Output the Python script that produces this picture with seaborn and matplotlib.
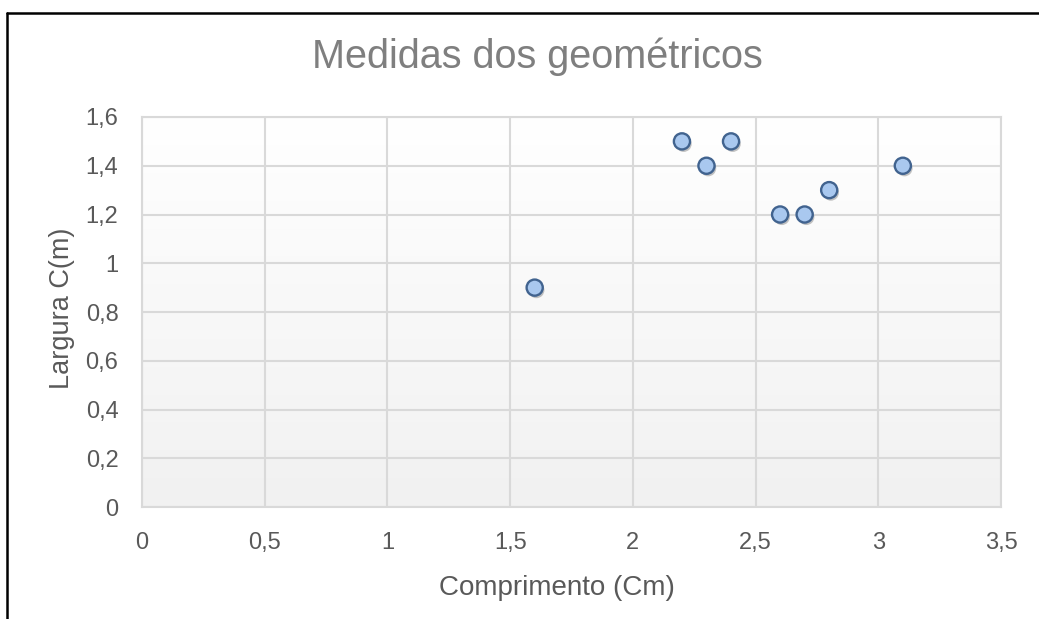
import numpy as np
import pandas as pd
import matplotlib
matplotlib.use("Agg")
import matplotlib.pyplot as plt
import matplotlib.patheffects as pe
from matplotlib.lines import Line2D
import seaborn as sns

# Measurements (length x width)
comprimento = [1.6, 2.2, 2.3, 2.4, 2.6, 2.7, 2.8, 3.1]
largura = [0.9, 1.5, 1.4, 1.5, 1.2, 1.2, 1.3, 1.4]

x_ticks = [0, 0.5, 1, 1.5, 2, 2.5, 3, 3.5]
y_ticks = [0, 0.2, 0.4, 0.6, 0.8, 1.0, 1.2, 1.4, 1.6]
x_tick_labels = ["0", "0,5", "1", "1,5", "2", "2,5", "3", "3,5"]
y_tick_labels = ["0", "0,2", "0,4", "0,6", "0,8", "1", "1,2", "1,4", "1,6"]

titulo = "Medidas dos geométricos"
rotulo_x = "Comprimento (Cm)"
rotulo_y = "Largura C(m)"

df = pd.DataFrame({"comprimento": comprimento, "largura": largura})

sns.set_style("white")
plt.rcParams["font.family"] = ["Liberation Sans", "DejaVu Sans"]

W, H = 1039, 619
fig = plt.figure(figsize=(W / 100, H / 100), dpi=100)
fig.patch.set_facecolor("white")

ax = fig.add_axes([142 / W, 1 - 507 / H, (1001 - 142) / W, (507 - 117) / H])

# soft vertical gradient in the plot area: white on top, light grey at the bottom
grad = np.linspace(1.0, 0.945, 256).reshape(-1, 1)
ax.imshow(np.dstack([grad, grad, grad]), extent=[0, 3.5, 0, 1.6], aspect="auto",
          origin="upper", zorder=0, interpolation="bilinear")

grid_col = "#d9d9d9"
ax.set_xlim(0, 3.5)
ax.set_ylim(0, 1.6)
ax.set_xticks(x_ticks)
ax.set_yticks(y_ticks)
ax.set_xticklabels(x_tick_labels)
ax.set_yticklabels(y_tick_labels)
ax.grid(True, color=grid_col, linewidth=1.5, zorder=1)
ax.set_axisbelow(True)
for s in ax.spines.values():
    s.set_color(grid_col)
    s.set_linewidth(1.5)
ax.tick_params(axis="both", length=0, labelsize=17, labelcolor="#595959")
ax.tick_params(axis="x", pad=18)
ax.tick_params(axis="y", pad=17)

sns.scatterplot(data=df, x="comprimento", y="largura", ax=ax, s=135,
                color="#a9c8ef", edgecolor="#41638f", linewidth=1.7,
                zorder=5, clip_on=False)
for coll in ax.collections:
    coll.set_path_effects([
        pe.SimplePatchShadow(offset=(1.2, -1.8), shadow_rgbFace="#7a7a7a", alpha=0.45),
        pe.Normal(),
    ])

ax.set_xlabel("")
ax.set_ylabel("")

fig.text(537 / W, 1 - 57 / H, titulo, ha="center", va="center", fontsize=28.5,
         color="#7f7f7f")
fig.text(557 / W, 1 - 588 / H, rotulo_x, ha="center", va="center", fontsize=20,
         color="#595959")
fig.text(62 / W, 1 - 308 / H, rotulo_y, ha="center", va="center", fontsize=19.5,
         color="#595959", rotation=90)

# chart border (top and left edges)
fig.add_artist(Line2D([7 / W, 1.0], [1 - 13 / H, 1 - 13 / H], color="black",
                      linewidth=1.8, transform=fig.transFigure))
fig.add_artist(Line2D([7 / W, 7 / W], [0, 1 - 13 / H], color="black",
                      linewidth=1.8, transform=fig.transFigure))

fig.savefig("out.png", dpi=100)
